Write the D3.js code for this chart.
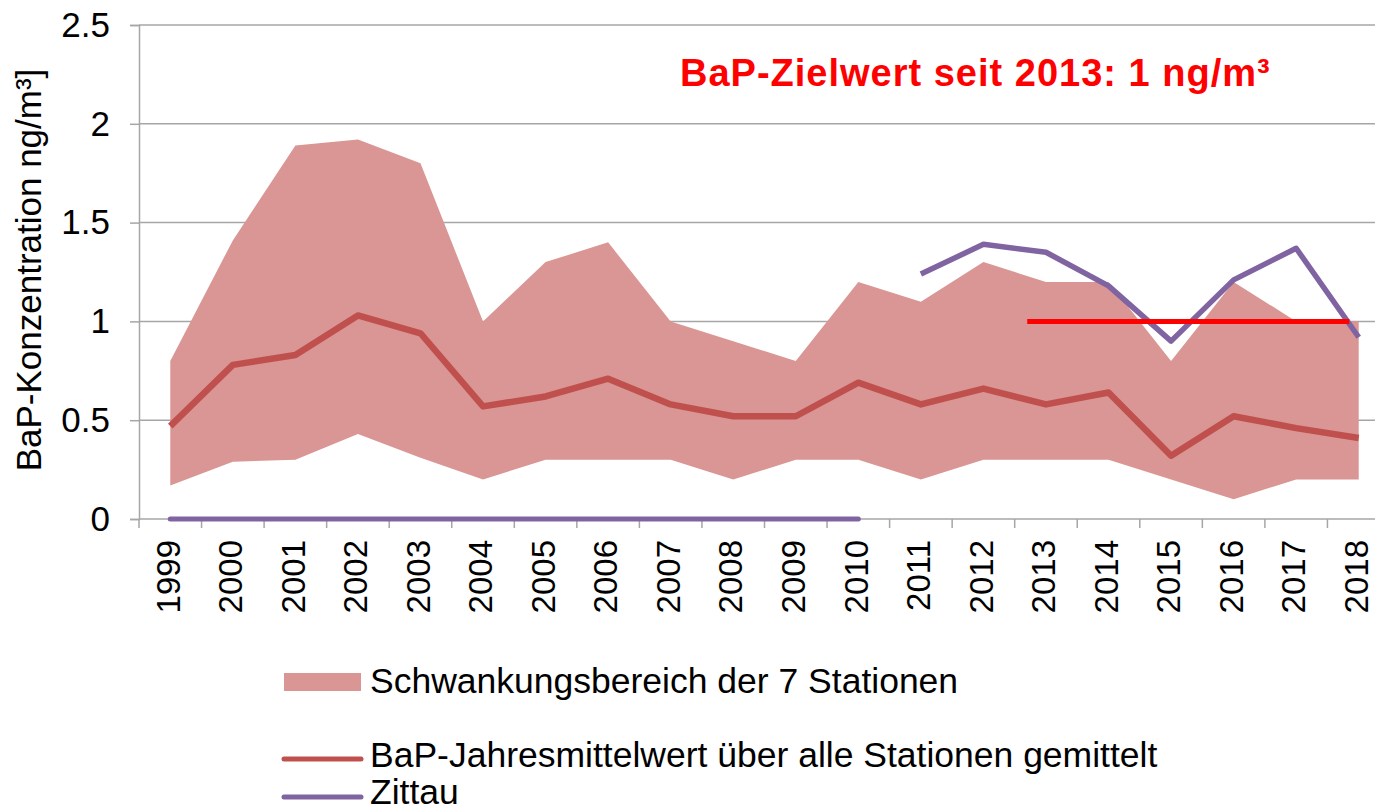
<!DOCTYPE html>
<html>
<head>
<meta charset="utf-8">
<script src="https://cdn.jsdelivr.net/npm/d3@7"></script>
<style>
  html, body { margin: 0; padding: 0; background: #fff; }
  svg { display: block; font-family: "Liberation Sans", Arial, sans-serif; }
</style>
</head>
<body>
<svg id="chart" width="1375" height="812"></svg>
<script>
// ---- data ----
const years = ["1999","2000","2001","2002","2003","2004","2005","2006","2007","2008",
               "2009","2010","2011","2012","2013","2014","2015","2016","2017","2018"];
const rangeUpper = [0.80, 1.41, 1.89, 1.92, 1.80, 1.00, 1.30, 1.40, 1.00, 0.90,
                    0.80, 1.20, 1.10, 1.30, 1.20, 1.20, 0.80, 1.20, 1.00, 1.00];
const rangeLower = [0.17, 0.29, 0.30, 0.43, 0.31, 0.20, 0.30, 0.30, 0.30, 0.20,
                    0.30, 0.30, 0.20, 0.30, 0.30, 0.30, 0.20, 0.10, 0.20, 0.20];
const meanValues = [0.47, 0.78, 0.83, 1.03, 0.94, 0.57, 0.62, 0.71, 0.58, 0.52,
                    0.52, 0.69, 0.58, 0.66, 0.58, 0.64, 0.32, 0.52, 0.46, 0.41];
const zittauValues = [0, 0, 0, 0, 0, 0, 0, 0, 0, 0,
                      0, 0, 1.24, 1.39, 1.35, 1.18, 0.90, 1.21, 1.37, 0.92];
const targetYears = [2012.7, 2017.85];
const targetValue = 1;
const yTicks = [0, 0.5, 1, 1.5, 2, 2.5];
const yTickLabels = ["0", "0.5", "1", "1.5", "2", "2.5"];
const titleText = "BaP-Zielwert seit 2013: 1 ng/m³";
const yAxisTitle = "BaP-Konzentration ng/m³]";
const legendLabels = ["Schwankungsbereich der 7 Stationen",
                      "BaP-Jahresmittelwert über alle Stationen gemittelt",
                      "Zittau"];

// ---- layout ----
const plotLeft = 139, plotTop = 25, plotBottom = 519, step = 62.55;
const svg = d3.select("#chart");
const W = 1375;

const x = d3.scaleBand().domain(years).range([plotLeft, plotLeft + step * years.length]);
const xc = d => x(d) + x.bandwidth() / 2;
const xYear = d3.scaleLinear().domain([1999, 2018]).range([xc("1999"), xc("2018")]);
const y = d3.scaleLinear().domain([0, 2.5]).range([plotBottom, plotTop]);

const gridColor = "#a6a6a6";
const colBand = "#d99694", colMean = "#c0504d", colZittau = "#8064a2", colTarget = "#ff0000";

// gridlines
svg.append("g").selectAll("line").data(yTicks.filter(t => t > 0)).join("line")
  .attr("x1", plotLeft).attr("x2", W)
  .attr("y1", d => y(d)).attr("y2", d => y(d))
  .attr("stroke", gridColor).attr("stroke-width", 1.5);

const rows = years.map((yr, i) => ({yr, lo: rangeLower[i], hi: rangeUpper[i], m: meanValues[i], z: zittauValues[i]}));

// range area
svg.append("path").datum(rows)
  .attr("d", d3.area().x(d => xc(d.yr)).y0(d => y(d.lo)).y1(d => y(d.hi)))
  .attr("fill", colBand);

// y axis
const yAxis = svg.append("g").attr("transform", `translate(${plotLeft},0)`)
  .call(d3.axisLeft(y).tickValues(yTicks).tickFormat((d, i) => yTickLabels[i]).tickSize(9).tickPadding(20));
yAxis.select(".domain").attr("stroke", gridColor).attr("stroke-width", 1.5);
yAxis.selectAll(".tick line").attr("stroke", gridColor).attr("stroke-width", 1.5);
yAxis.selectAll("text").attr("font-size", 35).attr("fill", "#000")
  .attr("font-family", "Liberation Sans, Arial, sans-serif");

// x axis
const xAxis = svg.append("g").attr("transform", `translate(0,${plotBottom})`)
  .call(d3.axisBottom(x).tickSize(0).tickPadding(0));
xAxis.select(".domain").remove();
svg.append("line").attr("x1", plotLeft).attr("x2", W).attr("y1", plotBottom).attr("y2", plotBottom)
  .attr("stroke", gridColor).attr("stroke-width", 1.5);
// tick marks at band boundaries
svg.append("g").selectAll("line").data(years).join("line")
  .attr("x1", d => x(d)).attr("x2", d => x(d))
  .attr("y1", plotBottom).attr("y2", plotBottom + 9)
  .attr("stroke", gridColor).attr("stroke-width", 1.5);
xAxis.selectAll(".tick text")
  .attr("font-size", 33).attr("fill", "#000")
  .attr("font-family", "Liberation Sans, Arial, sans-serif")
  .attr("text-anchor", "end")
  .attr("transform", "rotate(-90)")
  .attr("x", -21).attr("y", 0).attr("dy", "0.28em");

// mean line
svg.append("path").datum(rows)
  .attr("d", d3.line().x(d => xc(d.yr)).y(d => y(d.m)))
  .attr("fill", "none").attr("stroke", colMean).attr("stroke-width", 6.5)
  .attr("stroke-linejoin", "round");

// Zittau lines (zero run and measured run drawn separately)
svg.append("path").datum(rows)
  .attr("d", d3.line().defined(d => d.z === 0).x(d => xc(d.yr)).y(d => y(d.z)))
  .attr("fill", "none").attr("stroke", colZittau).attr("stroke-width", 5)
  .attr("stroke-linejoin", "round").attr("stroke-linecap", "round");
svg.append("path").datum(rows)
  .attr("d", d3.line().defined(d => d.z > 0).x(d => xc(d.yr)).y(d => y(d.z)))
  .attr("fill", "none").attr("stroke", colZittau).attr("stroke-width", 5.5)
  .attr("stroke-linejoin", "round");

// target line
svg.append("line")
  .attr("x1", xYear(targetYears[0])).attr("x2", xYear(targetYears[1]))
  .attr("y1", y(targetValue)).attr("y2", y(targetValue))
  .attr("stroke", colTarget).attr("stroke-width", 5);

// title
svg.append("text").attr("x", 680).attr("y", 86)
  .attr("font-size", 38).attr("font-weight", "bold").attr("fill", colTarget)
  .attr("letter-spacing", 1)
  .text(titleText);

// y axis title
svg.append("text")
  .attr("transform", `translate(41,270) rotate(-90)`)
  .attr("text-anchor", "middle").attr("font-size", 35).attr("fill", "#000")
  .text(yAxisTitle);

// legend
const lg = svg.append("g");
lg.append("rect").attr("x", 284).attr("y", 673).attr("width", 77).attr("height", 18).attr("fill", colBand);
lg.append("text").attr("x", 370).attr("y", 693).attr("font-size", 35.5).attr("fill", "#000").text(legendLabels[0]);
lg.append("line").attr("x1", 284).attr("x2", 361).attr("y1", 759).attr("y2", 759)
  .attr("stroke", colMean).attr("stroke-width", 5).attr("stroke-linecap", "round");
lg.append("text").attr("x", 370).attr("y", 767).attr("font-size", 35.5).attr("fill", "#000").text(legendLabels[1]);
lg.append("line").attr("x1", 284).attr("x2", 361).attr("y1", 797).attr("y2", 797)
  .attr("stroke", colZittau).attr("stroke-width", 5).attr("stroke-linecap", "round");
lg.append("text").attr("x", 370).attr("y", 804).attr("font-size", 35.5).attr("fill", "#000").text(legendLabels[2]);
</script>
</body>
</html>
